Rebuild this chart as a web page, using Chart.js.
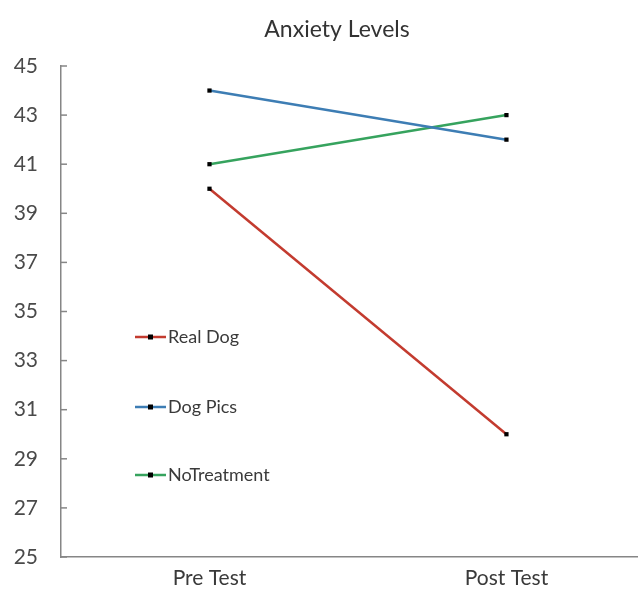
<!DOCTYPE html>
<html>
<head>
<meta charset="utf-8">
<script src="https://cdn.jsdelivr.net/npm/chart.js@4"></script>
<style>
  html, body { margin: 0; padding: 0; background: #fff; }
  #wrap { width: 638px; height: 598px; }
</style>
</head>
<body>
<div id="wrap"><canvas id="anxietyChart"></canvas></div>
<script>
const categories = ["Pre Test", "Post Test"];
const seriesNames = ["Real Dog", "Dog Pics", "NoTreatment"];
const realDog = [40, 30];
const dogPics = [44, 42];
const noTreatment = [41, 43];
const yMin = 25, yMax = 45, yStep = 2;
const chartTitle = "Anxiety Levels";

const red = "#c33b2f";
const blue = "#3d7db4";
const green = "#36a35e";
const font = "Lato, 'Open Sans', sans-serif";

function points(values) {
    return values.map((v, i) => ({ x: i, y: v }));
}

// title sits a little right of the canvas centre, like the original
const offsetTitle = {
    id: "offsetTitle",
    afterDraw(chart) {
        const ctx = chart.ctx;
        ctx.save();
        ctx.fillStyle = "#333";
        ctx.font = "23px " + font;
        ctx.textAlign = "center";
        ctx.textBaseline = "middle";
        ctx.fillText(chartTitle, 337, 30);
        ctx.restore();
    }
};

// legend drawn inside the plot, stacked on the left
const insideLegend = {
    id: "insideLegend",
    afterDatasetsDraw(chart) {
        const ctx = chart.ctx;
        const rows = [337, 407, 475];
        ctx.save();
        chart.data.datasets.forEach((ds, i) => {
            const y = rows[i];
            ctx.strokeStyle = ds.borderColor;
            ctx.lineWidth = 2.5;
            ctx.beginPath();
            ctx.moveTo(135, y);
            ctx.lineTo(166, y);
            ctx.stroke();
            ctx.fillStyle = "#000";
            ctx.fillRect(148, y - 2.5, 5, 5);
            ctx.fillStyle = "#3a3a3a";
            ctx.font = "18px " + font;
            ctx.textBaseline = "middle";
            ctx.textAlign = "left";
            ctx.fillText(ds.label, 168, y);
        });
        ctx.restore();
    }
};

// small tick marks pointing into the plot
const innerTicks = {
    id: "innerTicks",
    afterDraw(chart) {
        const ctx = chart.ctx;
        const ys = chart.scales.y;
        const left = chart.chartArea.left;
        ctx.save();
        ctx.strokeStyle = "#868686";
        ctx.lineWidth = 1.5;
        ys.ticks.forEach(t => {
            const py = ys.getPixelForValue(t.value);
            ctx.beginPath();
            ctx.moveTo(left, py);
            ctx.lineTo(left + 6, py);
            ctx.stroke();
        });
        ctx.restore();
    }
};

new Chart(document.getElementById("anxietyChart"), {
    type: "line",
    data: {
        datasets: [
            { label: seriesNames[0], data: points(realDog), borderColor: red },
            { label: seriesNames[1], data: points(dogPics), borderColor: blue },
            { label: seriesNames[2], data: points(noTreatment), borderColor: green }
        ]
    },
    options: {
        responsive: true,
        maintainAspectRatio: false,
        animation: false,
        layout: { autoPadding: false, padding: { left: 0, right: 0, top: 66, bottom: 0 } },
        elements: {
            line: { borderWidth: 2.5, tension: 0 },
            point: { pointStyle: "rect", radius: 3, hoverRadius: 3, backgroundColor: "#000", borderColor: "#000", borderWidth: 0 }
        },
        plugins: {
            legend: { display: false },
            tooltip: { enabled: false },
            title: { display: false }
        },
        scales: {
            x: {
                type: "linear",
                min: -0.5,
                max: 1.443,
                afterBuildTicks(scale) {
                    scale.ticks = categories.map((c, i) => ({ value: i }));
                },
                afterFit(scale) { scale.height = 41; },
                ticks: {
                    callback: v => categories[v],
                    color: "#3a3a3a",
                    font: { family: font, size: 21 },
                    padding: 9,
                    maxRotation: 0
                },
                grid: { display: false, drawTicks: false },
                border: { color: "#868686", width: 1.5 }
            },
            y: {
                min: yMin,
                max: yMax,
                afterFit(scale) { scale.width = 61; },
                ticks: {
                    stepSize: yStep,
                    color: "#4a4a4a",
                    font: { family: font, size: 21 },
                    padding: 23
                },
                grid: { display: false, drawTicks: false },
                border: { color: "#868686", width: 1.5 }
            }
        }
    },
    plugins: [offsetTitle, insideLegend, innerTicks]
});
</script>
</body>
</html>
